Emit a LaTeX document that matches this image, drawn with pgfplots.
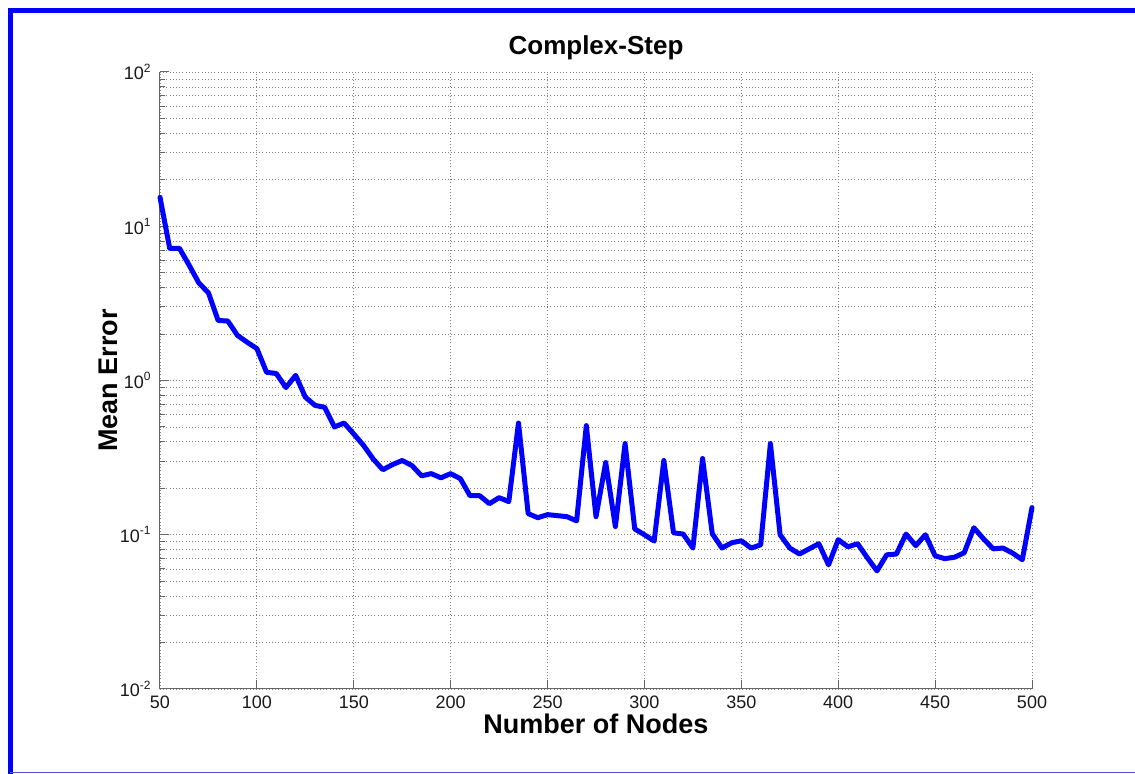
\documentclass[border=0pt]{standalone}
\usepackage{pgfplots}
\pgfplotsset{compat=1.18}
\usepackage{fontspec}
\setmainfont{Liberation Sans}
\begin{document}
\begin{tikzpicture}
\useasboundingbox (-80pt,-42.5pt) rectangle (487.5pt,344.5pt);
\begin{axis}[
  at={(0,0)}, anchor=south west,
  scale only axis, width=436pt, height=308.5pt,
  ymode=log, xmin=50, xmax=500, ymin=0.01, ymax=100,
  axis lines*=left,
  axis line style={black!60, line width=0.5pt},
  tick align=inside,
  major tick length=4.5pt, minor tick length=2.5pt,
  tick style={black!60, line width=0.5pt},
  xtick={50,100,150,200,250,300,350,400,450,500},
  xticklabels={50,100,150,200,250,300,350,400,450,500},
  ytick={0.01,0.1,1,10,100},
  yticklabels={10\textsuperscript{-2},10\textsuperscript{-1},10\textsuperscript{0},10\textsuperscript{1},10\textsuperscript{2}},
  xmajorgrids, ymajorgrids, yminorgrids,
  major grid style={black!50, dash pattern=on 0.5pt off 1.1pt, line width=0.4pt},
  minor grid style={black!50, dash pattern=on 0.5pt off 1.1pt, line width=0.4pt},
  ticklabel style={font=\fontsize{9}{10.5}\selectfont, black!90},
  xticklabel style={anchor=north, inner sep=0pt, yshift=-3.5pt},
  yticklabel style={anchor=east, inner sep=0pt, xshift=-4pt},
  title={Complex-Step},
  title style={at={(axis description cs:0.5,1.009)}, anchor=base, inner sep=0pt, font=\bfseries\fontsize{13}{15}\selectfont},
  xlabel={Number of Nodes},
  xlabel style={at={(axis description cs:0.5,-0.0725)}, anchor=base, inner sep=0pt, font=\bfseries\fontsize{13.5}{16}\selectfont},
  ylabel={Mean Error},
  ylabel style={at={(axis description cs:-0.0482,0.5)}, anchor=base, inner sep=0pt, font=\bfseries\fontsize{13.5}{16}\selectfont},
  clip=false,
]
\addplot[color={rgb,255:red,0;green,0;blue,255}, line width=2.5pt, line join=round, line cap=round] coordinates {
(50,15.4) (55,7.2) (60,7.2) (65,5.6) (70,4.3) (75,3.7) (80,2.45) (85,2.43) (90,1.96) (95,1.77)
(100,1.61) (105,1.13) (110,1.11) (115,0.90) (120,1.08) (125,0.78) (130,0.69) (135,0.67) (140,0.50) (145,0.53)
(150,0.45) (155,0.38) (160,0.31) (165,0.264) (170,0.285) (175,0.303) (180,0.281) (185,0.241) (190,0.249) (195,0.234)
(200,0.249) (205,0.231) (210,0.179) (215,0.179) (220,0.159) (225,0.174) (230,0.164) (235,0.53) (240,0.137) (245,0.129)
(250,0.135) (255,0.133) (260,0.131) (265,0.123) (270,0.51) (275,0.131) (280,0.294) (285,0.113) (290,0.39) (295,0.109)
(300,0.100) (305,0.091) (310,0.303) (315,0.103) (320,0.101) (325,0.082) (330,0.312) (335,0.1016) (340,0.082) (345,0.0887)
(350,0.0914) (355,0.082) (360,0.086) (365,0.39) (370,0.100) (375,0.082) (380,0.075) (385,0.081) (390,0.0875) (395,0.0638)
(400,0.0929) (405,0.0835) (410,0.0875) (415,0.071) (420,0.0583) (425,0.0741) (430,0.075) (435,0.101) (440,0.085) (445,0.100)
(450,0.073) (455,0.070) (460,0.0715) (465,0.0764) (470,0.111) (475,0.094) (480,0.081) (485,0.082) (490,0.076) (495,0.0689)
(500,0.150)
};
\end{axis}
\draw[blue, line width=2.5pt] (-74.75pt,-42.5pt) -- (-74.75pt,339.25pt) -- (487.5pt,339.25pt);
\draw[color={rgb,255:red,80;green,80;blue,230}, line width=0.6pt] (-74.75pt,-41.7pt) -- (487.5pt,-41.7pt);
\end{tikzpicture}
\end{document}
